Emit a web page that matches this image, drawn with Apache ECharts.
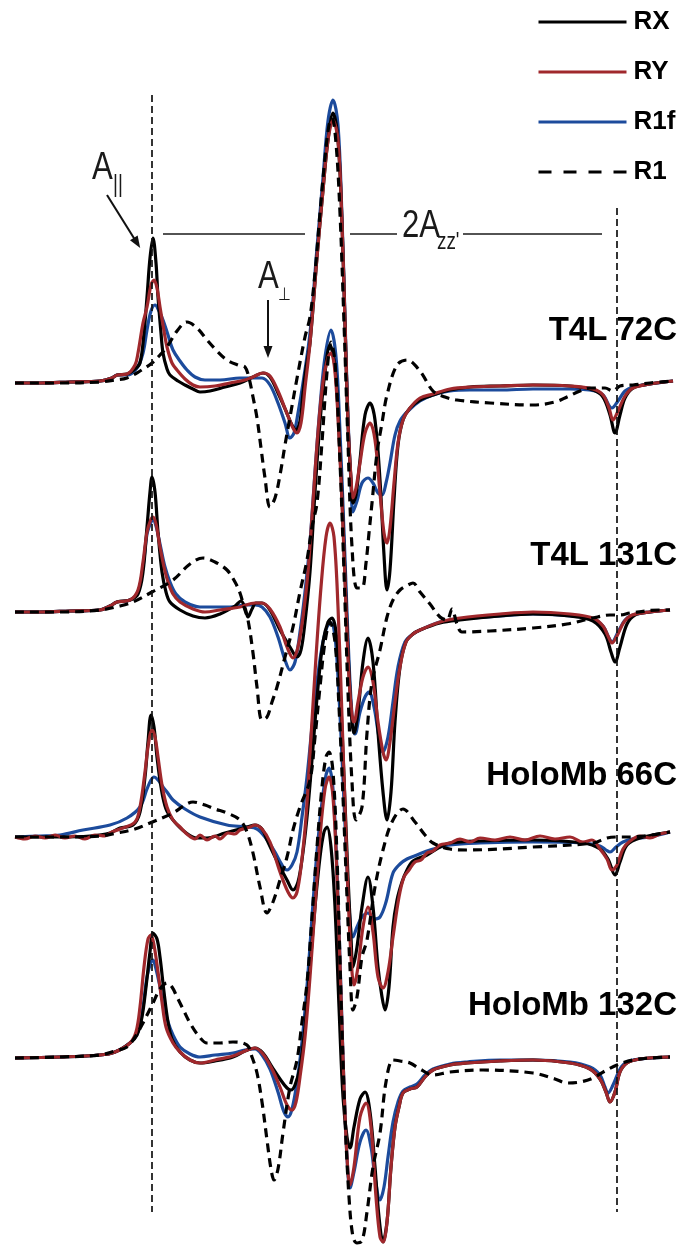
<!DOCTYPE html>
<html>
<head>
<meta charset="utf-8">
<script src="https://cdn.jsdelivr.net/npm/echarts@6/dist/echarts.min.js"></script>
<style>
html, body { margin: 0; padding: 0; background: #fff; }
#chart { width: 682px; height: 1247px; }
</style>
</head>
<body>
<div id="chart"></div>
<script>
// EPR first-derivative spectra: [field position, signal relative to each spectrum's baseline]

const SAMPLE_NAMES = ['T4L 72C', 'T4L 131C', 'HoloMb 66C', 'HoloMb 132C'];
const VARIANTS = ['RX', 'RY', 'R1f', 'R1'];

// ---- T4L 72C ----
const T4L72C_RX = [[15,0],[40,0],[70,1],[100,2],[112,5],[117,8],[127,9],[135,14],[140,20],[144,50],[147,86],[150,125],[153,145],[156,120],[158,86],[161,50],[163,30],[167,14],[170,8],[178,2],[185,-2],[193,-6],[200,-9],[210,-8],[225,-4],[240,0],[253,6],[263,10],[270,6],[278,-10],[286,-28],[292,-42],[296,-47],[300,-38],[303,-10],[306,15],[310,40],[317,126],[323,193],[328,243],[333,270],[338,243],[342,160],[345,60],[348,-40],[351,-97],[353,-120],[356,-112],[360,-77],[365,-32],[370,-20],[375,-37],[380,-97],[384,-172],[387,-207],[390,-187],[394,-117],[398,-62],[403,-37],[410,-25],[420,-17],[433,-12],[450,-7],[470,-4],[500,-3],[533,-2],[570,-3],[593,-7],[603,-14],[610,-32],[615,-50],[620,-32],[625,-15],[633,-5],[650,-1],[673,2]];
const T4L72C_RY = [[15,0],[40,0],[70,1],[100,2],[112,5],[117,8],[127,9],[135,18],[138,30],[143,60],[147,76],[151,98],[154,103],[157,95],[160,76],[164,52],[167,36],[172,20],[177,13],[185,4],[193,-2],[200,-4],[215,-3],[230,0],[245,3],[253,6],[263,10],[270,7],[278,-8],[286,-28],[293,-45],[297,-50],[301,-40],[305,-5],[310,40],[317,126],[323,193],[328,243],[333,263],[338,243],[342,160],[345,60],[348,-40],[351,-95],[353,-115],[356,-105],[360,-80],[365,-50],[370,-40],[375,-57],[380,-110],[384,-150],[387,-160],[390,-145],[394,-100],[398,-60],[403,-37],[410,-25],[420,-15],[433,-11],[450,-6],[470,-4],[500,-3],[533,-2],[570,-3],[593,-6],[603,-12],[609,-25],[613,-37],[618,-28],[625,-13],[633,-5],[650,-1],[673,2]];
const T4L72C_R1f = [[15,0],[40,0],[70,1],[100,2],[112,5],[117,8],[127,8],[137,15],[143,30],[147,53],[151,72],[155,78],[159,72],[163,63],[168,48],[173,33],[180,22],[187,13],[195,6],[205,3],[220,3],[240,5],[253,5],[262,5],[270,-2],[278,-20],[285,-40],[290,-55],[294,-50],[298,-30],[303,0],[310,50],[317,135],[323,205],[328,262],[333,283],[338,258],[342,165],[345,65],[348,-35],[351,-100],[353,-129],[357,-118],[362,-100],[368,-95],[373,-100],[378,-110],[382,-112],[386,-100],[390,-80],[395,-52],[400,-38],[408,-28],[420,-18],[433,-12],[450,-8],[470,-7],[500,-7],[533,-6],[570,-6],[595,-8],[603,-12],[612,-25],[618,-18],[625,-8],[633,-4],[650,-1],[673,2]];
const T4L72C_R1 = [[15,0],[60,0],[100,1],[115,3],[127,5],[140,12],[152,20],[160,28],[167,36],[177,52],[187,61],[197,55],[207,43],[217,32],[227,23],[238,18],[245,16],[249,5],[253,-14],[257,-35],[261,-65],[265,-95],[270,-124],[275,-115],[280,-92],[285,-62],[290,-34],[298,10],[305,46],[310,66],[315,110],[320,170],[325,225],[329,258],[332,265],[336,240],[340,170],[344,60],[348,-60],[352,-164],[357,-205],[362,-205],[366,-180],[369,-150],[372,-120],[377,-70],[382,-40],[387,-12],[397,18],[407,23],[420,12],[433,-8],[445,-14],[457,-17],[490,-20],[533,-22],[555,-19],[567,-14],[580,-8],[590,-5],[605,-5],[613,-8],[620,-3],[633,-2],[650,0],[673,2]];

// ---- T4L 131C ----
const T4L131C_RX = [[15,0],[40,0],[70,1],[100,2],[110,6],[117,10],[130,12],[138,18],[143,40],[147,85],[150,120],[152,135],[155,120],[158,80],[162,40],[166,20],[170,10],[180,2],[193,-4],[205,-6],[220,-2],[235,6],[241,11],[245,4],[248,-5],[252,3],[256,9],[262,9],[270,2],[280,-18],[290,-35],[297,-45],[301,-38],[305,-10],[310,40],[315,120],[320,190],[325,240],[330,267],[335,245],[339,180],[343,90],[346,10],[349,-60],[352,-110],[354,-121],[358,-100],[363,-50],[368,-26],[373,-50],[378,-120],[383,-180],[387,-208],[391,-180],[395,-110],[400,-55],[406,-30],[413,-22],[420,-18],[440,-11],[460,-8],[500,-4],[533,-2],[570,-4],[593,-9],[605,-22],[611,-40],[615,-50],[620,-35],[627,-12],[635,-3],[650,0],[670,2]];
const T4L131C_RY = [[15,0],[40,0],[70,1],[100,2],[110,6],[117,10],[130,12],[138,22],[143,50],[147,80],[151,93],[153,95],[156,88],[160,65],[164,45],[168,30],[173,18],[180,10],[193,3],[205,0],[220,2],[240,5],[255,9],[262,9],[270,3],[280,-15],[287,-35],[293,-46],[298,-35],[303,-5],[308,40],[313,110],[318,180],[323,230],[328,255],[331,259],[335,240],[339,175],[343,85],[346,5],[349,-65],[352,-103],[354,-110],[358,-90],[363,-65],[368,-55],[373,-70],[378,-110],[383,-140],[386,-148],[390,-130],[395,-90],[400,-55],[406,-30],[413,-22],[420,-18],[440,-10],[460,-6],[500,-2],[533,0],[570,-2],[593,-6],[603,-14],[608,-24],[612,-31],[617,-24],[624,-10],[632,-3],[650,0],[670,2]];
const T4L131C_R1f = [[15,0],[40,0],[70,1],[100,2],[110,6],[117,10],[130,12],[138,20],[143,45],[147,78],[151,90],[153,92],[156,86],[160,68],[165,45],[170,30],[176,18],[185,10],[200,5],[215,5],[230,5],[245,7],[255,7],[262,5],[270,-5],[278,-25],[285,-48],[290,-58],[295,-50],[300,-20],[305,20],[310,70],[315,140],[320,205],[325,255],[331,282],[336,255],[340,180],[344,80],[347,0],[350,-70],[353,-115],[355,-122],[360,-100],[365,-85],[369,-80],[374,-95],[379,-125],[383,-140],[388,-125],[393,-90],[398,-55],[405,-30],[413,-22],[420,-18],[440,-10],[460,-7],[500,-4],[533,-2],[570,-4],[593,-7],[603,-14],[609,-26],[612,-30],[618,-20],[625,-8],[633,-3],[650,0],[670,2]];
const T4L131C_R1 = [[15,0],[60,0],[100,2],[120,6],[133,10],[152,20],[173,32],[190,48],[203,54],[215,50],[227,42],[235,30],[240,19],[244,5],[248,-8],[253,-41],[257,-75],[262,-108],[267,-105],[272,-90],[277,-75],[285,-45],[293,-15],[300,20],[307,52],[312,85],[317,109],[322,170],[327,240],[331,270],[335,250],[340,150],[344,40],[348,-80],[352,-170],[356,-208],[362,-195],[367,-121],[372,-70],[380,-38],[387,-5],[393,12],[400,22],[408,27],[413,29],[420,20],[430,8],[440,-5],[447,-8],[452,3],[457,-12],[462,-20],[490,-19],[533,-16],[567,-12],[593,-6],[610,-3],[620,-3],[630,-1],[660,2],[670,2]];

// ---- HoloMb 66C ----
const HoloMb66C_RX = [[15,0],[60,0],[90,1],[110,4],[120,9],[133,12],[140,25],[145,60],[148,95],[151,122],[154,110],[157,80],[161,50],[166,28],[173,17],[185,5],[197,-1],[207,-1],[225,4],[247,10],[255,12],[262,8],[267,-3],[280,-30],[287,-43],[293,-53],[298,-45],[303,-15],[308,30],[313,90],[318,150],[323,195],[328,215],[332,219],[336,205],[340,150],[344,60],[348,-40],[351,-100],[353,-130],[357,-110],[362,-70],[368,-40],[373,-70],[378,-130],[382,-160],[385,-173],[389,-150],[393,-90],[397,-63],[402,-45],[407,-33],[413,-24],[427,-18],[440,-10],[450,-6],[480,-4],[533,-3],[583,-6],[600,-12],[608,-22],[615,-38],[620,-25],[627,-8],[640,-1],[670,5]];
const HoloMb66C_RY = [[15,0],[25,-2],[35,1],[45,-1],[55,2],[65,-1],[75,1],[85,-2],[95,2],[105,1],[112,5],[120,8],[135,15],[140,30],[145,65],[148,90],[152,107],[155,100],[158,80],[162,52],[167,30],[173,17],[180,10],[188,2],[195,-2],[200,2],[207,-3],[215,1],[220,-2],[228,4],[235,3],[240,7],[250,10],[255,12],[262,8],[270,-5],[280,-35],[288,-55],[293,-61],[297,-55],[301,-30],[306,20],[311,100],[316,180],[321,250],[326,300],[330,314],[334,300],[338,230],[342,120],[346,0],[349,-80],[352,-135],[354,-148],[358,-130],[363,-90],[368,-70],[373,-95],[378,-140],[383,-151],[388,-135],[393,-100],[399,-60],[404,-40],[409,-33],[415,-25],[421,-23],[427,-16],[433,-14],[440,-8],[450,-6],[460,-2],[470,-5],[480,-1],[495,-3],[510,0],[525,-3],[540,1],[555,-2],[570,0],[583,-5],[592,-3],[600,-12],[607,-22],[612,-33],[617,-28],[623,-12],[630,-4],[640,1],[650,-1],[660,3],[670,5]];
const HoloMb66C_R1f = [[15,0],[40,1],[60,2],[83,7],[110,12],[127,19],[140,30],[147,48],[151,57],[154,60],[158,57],[163,50],[167,45],[173,37],[185,28],[200,20],[227,12],[247,10],[257,8],[265,0],[275,-15],[282,-28],[287,-33],[292,-28],[297,-15],[302,20],[307,60],[312,110],[317,155],[322,190],[327,210],[331,214],[335,200],[338,160],[342,80],[346,-10],[349,-70],[353,-100],[357,-90],[362,-80],[368,-76],[374,-82],[380,-80],[386,-65],[393,-36],[400,-27],[407,-22],[417,-18],[430,-13],[450,-8],[480,-6],[533,-5],[583,-6],[600,-9],[606,-13],[610,-15],[616,-10],[623,-5],[632,-2],[650,0],[670,5]];
const HoloMb66C_R1 = [[15,0],[60,0],[100,1],[117,4],[135,8],[150,14],[173,24],[185,32],[193,35],[205,32],[215,28],[227,24],[240,17],[247,5],[253,-16],[260,-50],[267,-76],[273,-65],[280,-43],[287,-20],[293,7],[300,30],[310,57],[315,100],[320,150],[325,195],[330,215],[335,195],[339,130],[343,40],[347,-60],[350,-130],[353,-173],[357,-160],[362,-120],[367,-103],[375,-50],[383,-13],[392,15],[403,28],[415,15],[425,2],[433,-6],[450,-12],[467,-13],[533,-10],[593,-6],[607,-1],[617,0],[630,0],[670,5]];

// ---- HoloMb 132C ----
const HoloMb132C_RX = [[15,-1],[60,0],[100,2],[115,5],[130,14],[137,22],[142,40],[146,70],[150,105],[153,124],[157,118],[160,100],[164,65],[168,35],[172,18],[180,5],[190,-3],[200,-6],[215,-4],[233,0],[245,6],[255,9],[263,4],[272,-10],[280,-22],[287,-31],[291,-33],[295,-28],[300,-10],[305,30],[310,90],[315,150],[320,200],[324,225],[327,230],[331,210],[335,150],[339,50],[343,-40],[347,-80],[350,-91],[354,-70],[360,-42],[365,-35],[370,-55],[375,-110],[379,-160],[383,-185],[387,-165],[391,-110],[395,-70],[399,-50],[403,-36],[410,-32],[417,-30],[425,-20],[433,-13],[450,-8],[467,-6],[500,-4],[533,-3],[570,-6],[590,-12],[600,-22],[606,-35],[610,-45],[615,-35],[620,-15],[627,-6],[640,-2],[670,0]];
const HoloMb132C_RY = [[15,-1],[60,0],[100,2],[115,5],[130,14],[136,25],[140,50],[144,90],[148,118],[151,122],[154,112],[158,85],[162,55],[166,30],[173,14],[180,5],[190,-3],[200,-6],[215,-3],[233,1],[245,6],[255,9],[263,3],[272,-12],[280,-30],[287,-48],[292,-53],[296,-45],[300,-20],[305,20],[310,80],[315,150],[320,220],[325,268],[329,280],[333,260],[337,180],[341,60],[344,-30],[347,-100],[350,-128],[354,-110],[360,-60],[366,-46],[371,-70],[376,-140],[380,-180],[383,-185],[387,-165],[391,-110],[395,-70],[399,-50],[403,-36],[410,-32],[417,-30],[425,-20],[433,-13],[450,-8],[467,-6],[500,-4],[533,-3],[570,-6],[590,-12],[600,-22],[606,-35],[610,-45],[615,-35],[620,-15],[627,-6],[640,-2],[670,0]];
const HoloMb132C_R1f = [[15,-1],[60,0],[100,2],[115,5],[130,14],[138,25],[143,50],[147,80],[151,95],[153,97],[155,92],[159,75],[163,55],[168,35],[173,22],[180,10],[190,3],[200,0],[215,2],[233,4],[245,7],[255,8],[262,2],[270,-12],[278,-35],[284,-55],[288,-60],[292,-52],[297,-25],[302,15],[307,70],[312,140],[317,205],[322,255],[326,282],[329,289],[333,268],[337,185],[341,65],[344,-30],[347,-100],[350,-131],[354,-115],[360,-85],[366,-73],[371,-90],[375,-120],[380,-143],[384,-130],[388,-100],[393,-65],[398,-45],[403,-34],[410,-30],[417,-27],[425,-18],[433,-12],[450,-7],[467,-5],[500,-3],[533,-3],[570,-5],[590,-10],[600,-18],[605,-30],[608,-36],[613,-28],[620,-12],[627,-5],[640,-2],[670,0]];
const HoloMb132C_R1 = [[15,-1],[60,0],[100,2],[115,6],[127,10],[135,20],[143,34],[153,54],[160,68],[167,74],[172,70],[177,60],[183,48],[190,34],[198,22],[207,14],[220,14],[233,15],[247,12],[252,0],[257,-16],[262,-45],[267,-83],[271,-112],[274,-123],[278,-112],[283,-76],[290,-30],[297,-3],[302,35],[307,74],[312,140],[317,210],[322,270],[326,300],[329,305],[333,285],[337,200],[341,60],[345,-60],[349,-140],[353,-180],[357,-186],[362,-184],[367,-155],[373,-110],[380,-76],[386,-25],[393,-3],[400,-4],[410,-6],[420,-12],[433,-18],[450,-15],[483,-13],[533,-16],[555,-22],[567,-26],[580,-25],[593,-21],[605,-14],[617,-8],[633,-3],[650,-1],[670,0]];

const TRACES = [
  { RX: T4L72C_RX,     RY: T4L72C_RY,     R1f: T4L72C_R1f,     R1: T4L72C_R1 },
  { RX: T4L131C_RX,    RY: T4L131C_RY,    R1f: T4L131C_R1f,    R1: T4L131C_R1 },
  { RX: HoloMb66C_RX,  RY: HoloMb66C_RY,  R1f: HoloMb66C_R1f,  R1: HoloMb66C_R1 },
  { RX: HoloMb132C_RX, RY: HoloMb132C_RY, R1f: HoloMb132C_R1f, R1: HoloMb132C_R1 }
];

// Field positions of the outer hyperfine extrema marked by the dotted guides
const A_LOW_FIELD = 152;
const A_HIGH_FIELD = 617;
const A_PERP_FIELD = 268;

// ---- layout ----
const W = 682, H = 1247;
const STACK_OFFSETS = [-383, -612, -837, -1057];  // vertical stacking of the four spectra
const COLORS = { RX: '#000000', RY: '#a0282c', R1f: '#1c4b9c', R1: '#000000' };
const DRAW_ORDER = ['R1f', 'RX', 'RY', 'R1'];

const chart = echarts.init(document.getElementById('chart'), null, { renderer: 'canvas', width: W, height: H });

const series = [];
DRAW_ORDER.forEach(function (v) {
  TRACES.forEach(function (t, i) {
    series.push({
      name: v,
      type: 'line',
      data: t[v].map(function (p) { return [p[0], STACK_OFFSETS[i] + p[1]]; }),
      smooth: 0.35,
      symbol: 'none',
      silent: true,
      animation: false,
      lineStyle: { color: COLORS[v], width: 3.2, type: v === 'R1' ? [9, 6] : 'solid', cap: 'butt', join: 'round' },
      itemStyle: { color: COLORS[v] }
    });
  });
});

const guideStyle = { color: '#111', width: 1.7, type: [7, 4] };
const barStyle = { color: '#1a1a1a', width: 1.6, type: 'solid' };
const arrowStyle = { color: '#111', width: 2, type: 'solid' };
const zzY = -234;

series.push({
  name: 'guides',
  type: 'line',
  data: [],
  silent: true,
  animation: false,
  markLine: {
    silent: true,
    symbol: ['none', 'none'],
    label: { show: false },
    animation: false,
    data: [
      [{ coord: [A_LOW_FIELD, -95], lineStyle: guideStyle }, { coord: [A_LOW_FIELD, -1212] }],
      [{ coord: [A_HIGH_FIELD, -208], lineStyle: guideStyle }, { coord: [A_HIGH_FIELD, -1212] }],
      [{ coord: [163, zzY], lineStyle: barStyle }, { coord: [305, zzY] }],
      [{ coord: [350, zzY], lineStyle: barStyle }, { coord: [397, zzY] }],
      [{ coord: [463, zzY], lineStyle: barStyle }, { coord: [602, zzY] }]
    ]
  }
});
series.push({
  name: 'arrows',
  type: 'line',
  data: [],
  silent: true,
  animation: false,
  markLine: {
    silent: true,
    symbol: ['none', 'triangle'],
    symbolSize: [9, 12],
    label: { show: false },
    animation: false,
    data: [
      [{ coord: [107, -195], lineStyle: arrowStyle }, { coord: [137, -243] }],
      [{ coord: [A_PERP_FIELD, -300], lineStyle: arrowStyle }, { coord: [A_PERP_FIELD, -352] }]
    ]
  }
});

const labelFont = 'bold 33px "Liberation Sans", Arial, sans-serif';
const annFont = '"Liberation Sans Narrow", "Liberation Sans", Arial, sans-serif';

chart.setOption({
  animation: false,
  backgroundColor: '#ffffff',
  grid: { left: 0, right: 0, top: 0, bottom: 0, containLabel: false },
  xAxis: { type: 'value', min: 0, max: W, show: false },
  yAxis: { type: 'value', min: -H, max: 0, show: false },
  legend: {
    data: [
      { name: 'RX' },
      { name: 'RY' },
      { name: 'R1f' },
      { name: 'R1', lineStyle: { type: [13, 12] } }
    ],
    orient: 'vertical',
    left: 537,
    top: 9,
    padding: 0,
    itemWidth: 88,
    itemHeight: 24,
    itemGap: 24,
    selectedMode: false,
    itemStyle: { color: 'rgba(0,0,0,0)', borderWidth: 0, borderColor: 'rgba(0,0,0,0)', opacity: 0 },
    lineStyle: { width: 3, opacity: 1 },
    textStyle: { fontSize: 26, fontWeight: 'bold', fontFamily: '"Liberation Sans", Arial, sans-serif', color: '#000', lineHeight: 24, padding: [0, 0, 0, 2] }
  },
  series: series
});

function px(x, y) { return chart.convertToPixel({ gridIndex: 0 }, [x, y]); }

const LABEL_Y = [331, 556, 776, 1006];
const graphics = SAMPLE_NAMES.map(function (name, i) {
  return {
    type: 'text', silent: true,
    style: { text: name, x: 677, y: LABEL_Y[i], align: 'right', verticalAlign: 'middle', font: labelFont, fill: '#000' }
  };
});

// Narrow annotation lettering: regular sans condensed horizontally
function ann(text, x, y, size) {
  const p = px(x, y);
  return {
    type: 'text', silent: true, x: p[0], y: p[1], scaleX: 0.82, scaleY: 1,
    style: { text: text, x: 0, y: 0, verticalAlign: 'bottom', font: 'normal ' + size + 'px ' + annFont, fill: '#1a1a1a' }
  };
}
graphics.push(ann('A', 92, -188, 38));
graphics.push(ann('||', 113, -197, 23));
graphics.push(ann('A', 258, -297, 38));
graphics.push(ann('\u22A5', 278, -304, 18));
graphics.push(ann('2A', 402, -246, 38));
graphics.push(ann("zz'", 437, -254, 23));

chart.setOption({ graphic: graphics });
</script>
</body>
</html>
